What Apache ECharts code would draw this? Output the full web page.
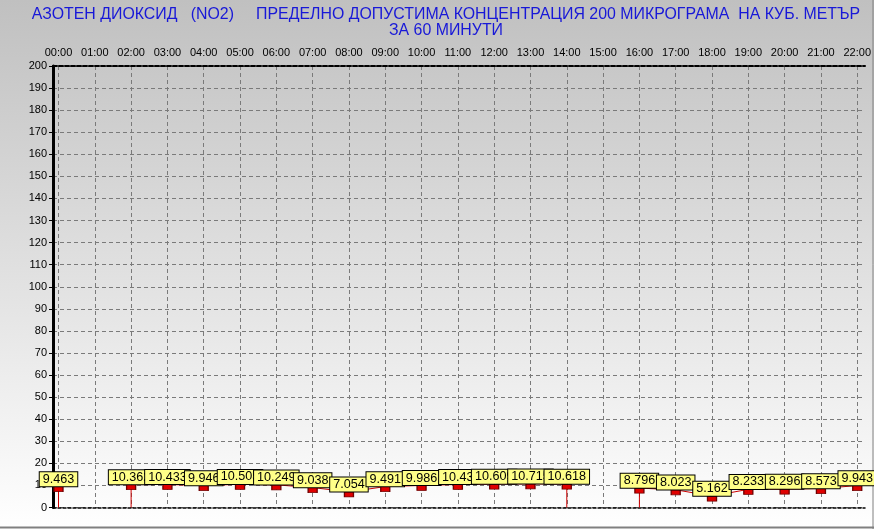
<!DOCTYPE html>
<html><head><meta charset="utf-8">
<script src="https://cdn.jsdelivr.net/npm/echarts@6/dist/echarts.min.js"></script>
<style>html,body{margin:0;padding:0;background:#fff}#c{width:874px;height:529px}</style>
</head><body><div id="c"></div>
<script>
const titleLines = ['АЗОТЕН ДИОКСИД   (NO2)     ПРЕДЕЛНО ДОПУСТИМА КОНЦЕНТРАЦИЯ 200 МИКРОГРАМА  НА КУБ. МЕТЪР', 'ЗА 60 МИНУТИ'];
const hours = ['00:00','01:00','02:00','03:00','04:00','05:00','06:00','07:00','08:00','09:00','10:00','11:00','12:00','13:00','14:00','15:00','16:00','17:00','18:00','19:00','20:00','21:00','22:00'];
const values = [9.463, null, 10.362, 10.433, 9.946, 10.505, 10.249, 9.038, 7.054, 9.491, 9.986, 10.43, 10.609, 10.715, 10.618, null, 8.796, 8.023, 5.162, 8.233, 8.296, 8.573, 9.943];
const dropHours = ['00:00','02:00','14:00','16:00'];
const yMin = 0, yMax = 200, yStep = 10;

const dropData = hours.map((h, i) => dropHours.includes(h) ? values[i] : null);
const FONT = "'Liberation Sans', Arial, sans-serif";

const chart = echarts.init(document.getElementById('c'));
chart.setOption({
  animation: false,
  backgroundColor: new echarts.graphic.LinearGradient(0, 0, 0, 1, [
    {offset: 0, color: '#c0c0c0'}, {offset: 1, color: '#ffffff'}
  ]),
  title: {
    text: titleLines.join('\n'),
    left: 446, top: 7, padding: 0, textAlign: 'center',
    textStyle: {color: '#1818d8', fontSize: 15.9, fontWeight: 'normal', fontFamily: FONT, lineHeight: 16}
  },
  grid: [
    {left: 53, right: 9, top: 66, bottom: 21.5, containLabel: false},
    {left: 58.5, right: 12.5, top: 66, bottom: 21.5, containLabel: false}
  ],
  xAxis: [
    {gridIndex: 0, type: 'value', min: 0, max: 1, position: 'bottom',
      axisLine: {show: true, onZero: false, lineStyle: {color: '#000', width: 1.5, type: [3, 2]}},
      axisTick: {show: false}, axisLabel: {show: false}, splitLine: {show: false}},
    {gridIndex: 0, type: 'value', min: 0, max: 1, position: 'top',
      axisLine: {show: true, onZero: false, lineStyle: {color: '#000', width: 2, type: [4, 2]}},
      axisTick: {show: false}, axisLabel: {show: false}, splitLine: {show: false}},
    {gridIndex: 1, type: 'category', data: hours, boundaryGap: false, position: 'top',
      axisLine: {show: false}, axisTick: {show: false},
      axisLabel: {color: '#000', fontSize: 11, fontFamily: FONT, margin: 8, interval: 0},
      splitLine: {show: true, lineStyle: {color: '#7a7a7a', width: 1, type: [4, 3]}}}
  ],
  yAxis: [
    {gridIndex: 0, type: 'value', min: yMin, max: yMax, interval: yStep, position: 'left',
      axisLine: {show: true, lineStyle: {color: '#000', width: 3}},
      axisTick: {show: true, length: 4, lineStyle: {color: '#000'}},
      axisLabel: {color: '#000', fontSize: 11, fontFamily: FONT, margin: 6},
      splitLine: {show: true, lineStyle: {color: '#7a7a7a', width: 1, type: [4, 3]}}},
    {gridIndex: 0, type: 'value', min: yMin, max: yMax, interval: yStep, position: 'right',
      axisLine: {show: true, lineStyle: {color: '#000', width: 1.5}},
      axisTick: {show: false}, axisLabel: {show: false}, splitLine: {show: false}},
    {gridIndex: 1, type: 'value', min: yMin, max: yMax, interval: yStep, show: false}
  ],
  series: [
    {type: 'bar', xAxisIndex: 2, yAxisIndex: 2, data: dropData, barWidth: 1,
      itemStyle: {color: '#cc0000'}, z: 2, silent: true},
    {type: 'line', xAxisIndex: 2, yAxisIndex: 2, data: values, connectNulls: false,
      lineStyle: {color: '#cc0000', width: 1},
      symbol: 'rect', symbolSize: [9, 5], symbolOffset: [0, 2.5], showAllSymbol: true,
      itemStyle: {color: '#e00000', borderColor: '#700000', borderWidth: 1},
      label: {show: true, position: 'top', distance: 0,
        backgroundColor: '#ffff88', borderColor: '#000', borderWidth: 1,
        padding: [1, 3, 1, 3], color: '#000', fontSize: 12.6, fontFamily: FONT, lineHeight: 12,
        formatter: p => String(p.value)},
      z: 3}
  ],
  graphic: [
    {type: 'line', shape: {x1: 0, y1: 527.5, x2: 874, y2: 527.5}, style: {stroke: '#808080', lineWidth: 2}, silent: true},
    {type: 'line', shape: {x1: 873, y1: 0, x2: 873, y2: 529}, style: {stroke: '#808080', lineWidth: 1}, silent: true}
  ]
});
</script></body></html>
